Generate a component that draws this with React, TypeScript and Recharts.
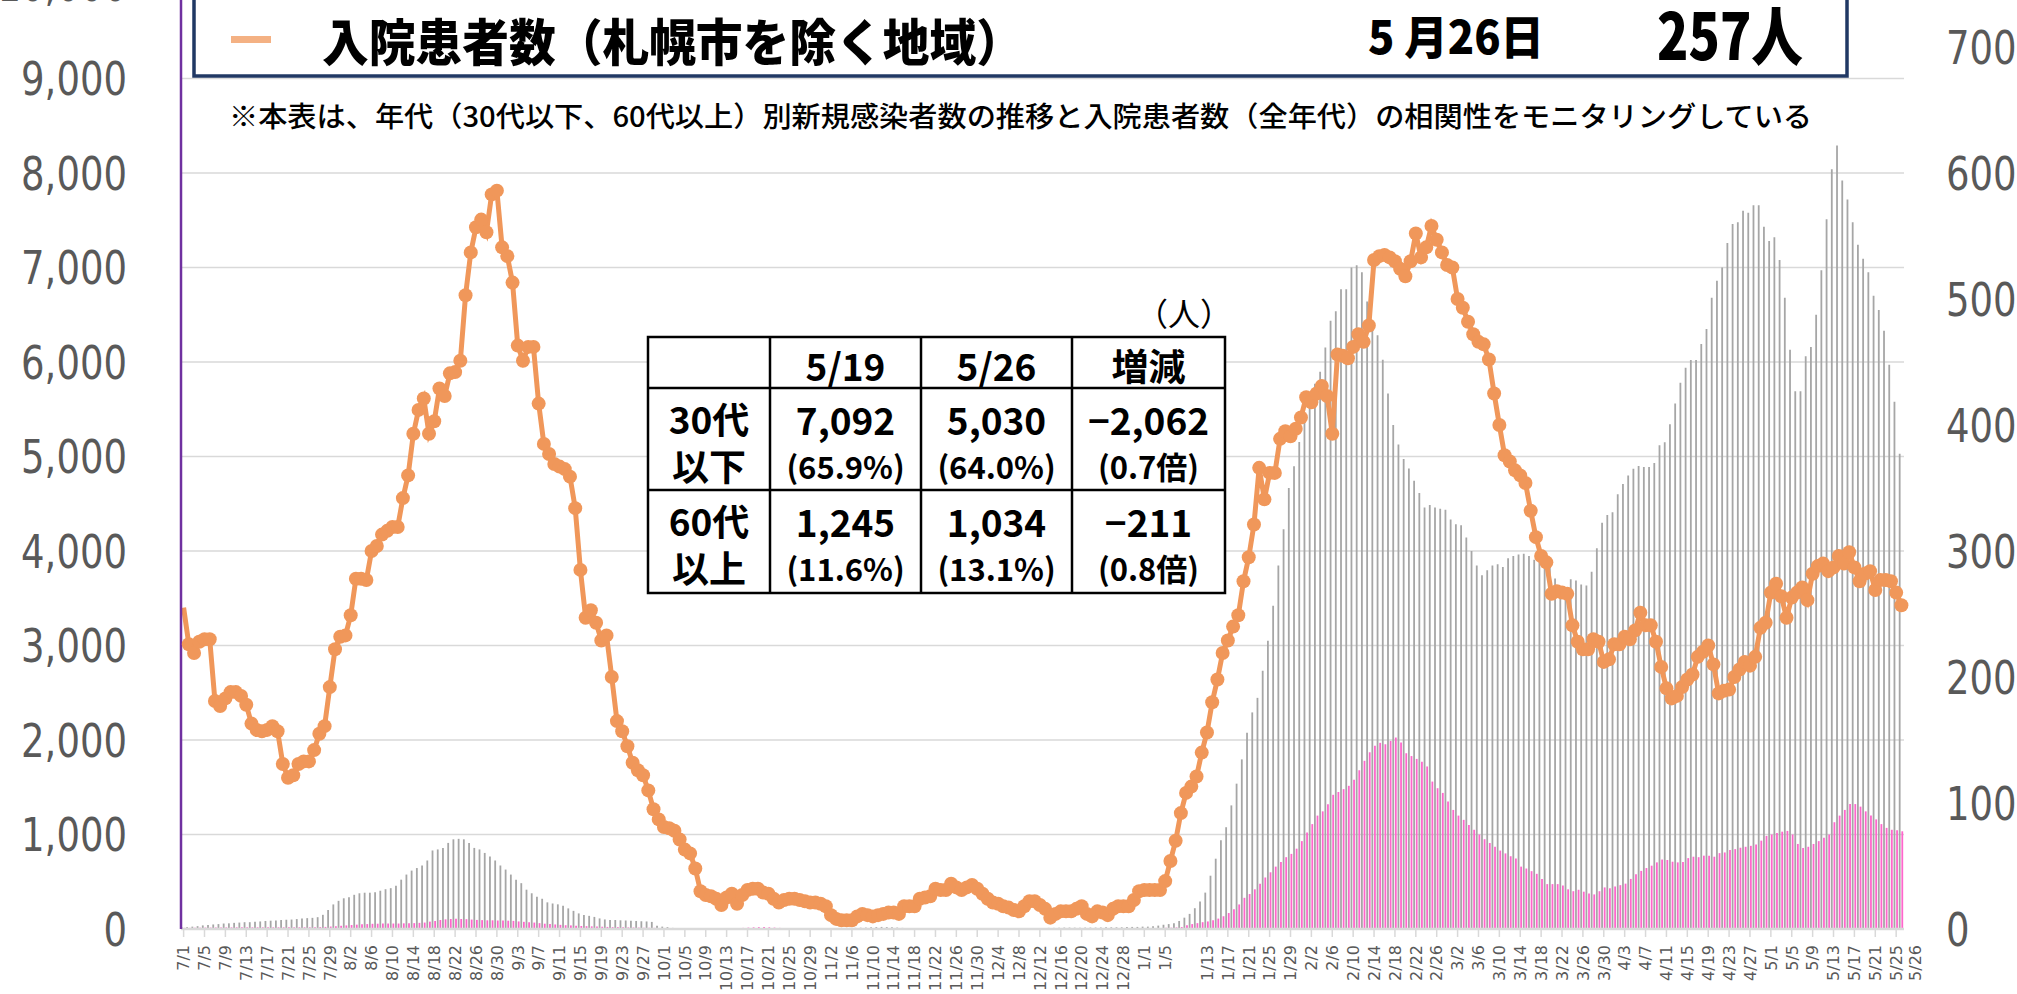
import React from 'react';
import { ComposedChart, Bar, Line, XAxis, YAxis, CartesianGrid } from 'recharts';

// days per month, 2021/7/1 - 2022/5/26
const monthDays: [number, number][] = [
  [7, 31], [8, 31], [9, 30], [10, 31], [11, 30], [12, 31],
  [1, 31], [2, 28], [3, 31], [4, 30], [5, 26],
];
const dates: string[] = monthDays.flatMap(([m, n]) =>
  Array.from({ length: n }, (_, k) => `${m}/${k + 1}`)
);

// 入院患者数 (right axis)
const hospitalized = [
  255, 226, 219, 228, 230, 230, 181, 177, 183, 188,
  188, 185, 178, 163, 158, 157, 158, 161, 157, 131,
  120, 122, 131, 133, 133, 142, 155, 161, 192, 222,
  232, 233, 249, 278, 278, 277, 300, 304, 313, 316,
  319, 319, 342, 360, 393, 412, 421, 393, 403, 429,
  423, 441, 442, 451, 503, 537, 557, 563, 553, 583,
  586, 541, 534, 513, 463, 451, 462, 462, 417, 385,
  377, 369, 367, 365, 359, 334, 285, 247, 253, 243,
  229, 233, 200, 165, 157, 145, 132, 126, 122, 110,
  95, 87, 81, 80, 78, 71, 63, 60, 48, 30,
  27, 26, 24, 19, 25, 28, 20, 27, 31, 32,
  32, 29, 28, 24, 21, 23, 24, 24, 23, 22,
  21, 21, 20, 18, 11, 8, 7, 7, 7, 10,
  12, 11, 10, 11, 12, 13, 13, 12, 18, 18,
  18, 24, 25, 26, 32, 31, 31, 36, 33, 31,
  33, 35, 32, 28, 24, 21, 20, 18, 17, 15,
  14, 18, 22, 22, 19, 16, 9, 12, 14, 14,
  14, 16, 18, 12, 10, 14, 13, 11, 16, 18,
  18, 18, 23, 30, 31, 31, 31, 31, 38, 54,
  70, 92, 108, 113, 121, 140, 156, 180, 198, 219,
  229, 240, 249, 276, 295, 321, 366, 341, 362, 362,
  389, 395, 391, 397, 406, 422, 418, 425, 431, 423,
  393, 456, 455, 453, 462, 472, 466, 479, 531, 534,
  535, 533, 530, 524, 518, 530, 552, 533, 541, 558,
  547, 537, 527, 525, 500, 493, 482, 472, 466, 464,
  452, 425, 400, 376, 371, 364, 360, 354, 332, 311,
  296, 291, 266, 268, 267, 266, 241, 228, 222, 222,
  230, 228, 212, 214, 226, 226, 232, 230, 237, 251,
  241, 241, 228, 208, 191, 183, 185, 192, 198, 202,
  216, 220, 225, 210, 187, 189, 190, 200, 206, 212,
  209, 216, 239, 243, 267, 274, 264, 247, 263, 267,
  271, 261, 282, 288, 290, 284, 287, 296, 290, 299,
  287, 276, 282, 284, 269, 277, 277, 276, 267, 257,
];

// 30代以下 新規感染者数 (left axis)
const under30s = [
  15, 20, 25, 30, 38, 42, 48, 52, 58, 60,
  65, 68, 72, 72, 78, 80, 85, 88, 90, 95,
  98, 100, 105, 110, 115, 118, 125, 150, 200, 260,
  298, 325, 336, 362, 378, 384, 384, 389, 405, 421,
  432, 458, 522, 576, 618, 645, 672, 725, 831, 842,
  858, 911, 949, 954, 949, 911, 858, 842, 805, 768,
  725, 672, 629, 576, 522, 485, 416, 378, 341, 320,
  282, 270, 261, 245, 218, 192, 165, 149, 139, 128,
  112, 101, 96, 95, 92, 90, 88, 85, 82, 80,
  75, 35, 25, 20, 12, 10, 8, 6, 5, 5,
  4, 4, 4, 5, 5, 6, 6, 8, 10, 10,
  10, 8, 6, 5, 4, 3, 3, 3, 3, 3,
  4, 4, 4, 5, 6, 8, 10, 10, 12, 12,
  14, 15, 18, 20, 22, 20, 18, 15, 12, 10,
  8, 6, 5, 4, 3, 3, 3, 3, 3, 3,
  3, 3, 3, 3, 3, 3, 3, 3, 3, 3,
  4, 4, 5, 6, 8, 10, 12, 12, 14, 15,
  15, 14, 14, 15, 15, 15, 16, 18, 18, 18,
  18, 20, 22, 22, 25, 25, 30, 36, 45, 52,
  60, 85, 120, 160, 220, 290, 385, 564, 744, 938,
  1077, 1308, 1538, 1795, 2077, 2292, 2446, 2733, 3051, 3420,
  3846, 4231, 4666, 4897, 5154, 5410, 5641, 5769, 5897, 6154,
  6436, 6538, 6769, 6769, 7000, 7025, 6949, 6641, 6385, 6282,
  6025, 5667, 5333, 5128, 4974, 4872, 4744, 4615, 4461, 4487,
  4461, 4446, 4436, 4333, 4282, 4272, 4143, 4000, 3846, 3743,
  3795, 3846, 3861, 3830, 3923, 3948, 3964, 3970, 3946, 3907,
  3946, 3929, 3907, 3710, 3590, 3618, 3700, 3689, 3645, 3634,
  3780, 4030, 4300, 4380, 4410, 4600, 4710, 4800, 4870, 4900,
  4890, 4890, 4930, 5120, 5150, 5340, 5560, 5780, 5940, 6020,
  6020, 6190, 6350, 6680, 6860, 7000, 7260, 7460, 7480, 7600,
  7580, 7660, 7660, 7430, 7280, 7320, 7080, 6680, 6130, 5690,
  5690, 6060, 6160, 6500, 6970, 7510, 8040, 8290, 7920, 7720,
  7480, 7240, 7092, 6950, 6700, 6550, 6330, 5970, 5580, 5030,
];

// 60代以上 新規感染者数 (left axis)
const over60s = [
  12, 12, 13, 14, 15, 15, 16, 16, 17, 17,
  18, 18, 18, 18, 18, 18, 18, 18, 18, 18,
  18, 18, 18, 18, 18, 18, 20, 22, 26, 30,
  34, 38, 42, 46, 50, 52, 55, 56, 58, 58,
  58, 58, 60, 62, 62, 65, 68, 78, 85, 95,
  102, 106, 108, 106, 104, 100, 96, 94, 92, 92,
  90, 90, 88, 86, 80, 76, 72, 68, 62, 56,
  52, 48, 44, 40, 38, 35, 32, 30, 28, 26,
  24, 22, 20, 20, 18, 17, 16, 15, 14, 13,
  12, 10, 8, 6, 5, 4, 4, 4, 4, 5,
  5, 5, 6, 6, 6, 8, 10, 12, 15, 18,
  20, 20, 18, 15, 12, 8, 6, 5, 4, 3,
  3, 3, 3, 3, 3, 3, 3, 3, 3, 3,
  3, 4, 4, 5, 5, 5, 4, 4, 3, 3,
  3, 3, 3, 3, 3, 3, 3, 3, 3, 3,
  3, 3, 3, 3, 3, 3, 3, 3, 3, 3,
  3, 3, 3, 3, 4, 4, 4, 4, 5, 5,
  5, 5, 5, 5, 5, 6, 6, 6, 6, 6,
  6, 6, 7, 7, 8, 8, 9, 10, 12, 14,
  17, 21, 40, 52, 62, 72, 80, 92, 110, 135,
  169, 210, 260, 330, 370, 420, 480, 545, 600, 660,
  710, 760, 795, 850, 930, 1020, 1110, 1200, 1245, 1320,
  1420, 1450, 1480, 1515, 1580, 1680, 1780, 1870, 1940, 1970,
  1955, 1990, 2026, 1974, 1860, 1830, 1800, 1770, 1720, 1560,
  1490, 1440, 1350, 1260, 1200, 1155, 1100, 1050, 1000, 950,
  910, 870, 830, 800, 770, 745, 660, 640, 612, 584,
  530, 475, 475, 475, 460, 420, 400, 415, 395, 375,
  366, 400, 440, 431, 450, 464, 480, 530, 580, 615,
  645, 670, 705, 735, 730, 712, 705, 710, 750, 765,
  760, 776, 776, 765, 803, 810, 835, 845, 860, 870,
  880, 895, 935, 985, 1000, 1015, 1030, 1038, 1000, 900,
  858, 870, 900, 930, 965, 1000, 1130, 1200, 1260, 1322,
  1322, 1295, 1245, 1200, 1160, 1110, 1070, 1050, 1045, 1034,
];

const leftTicks = [0, 1000, 2000, 3000, 4000, 5000, 6000, 7000, 8000, 9000, 10000];
const rightTicks = [0, 100, 200, 300, 400, 500, 600, 700];
const hiddenLabels = ['1/9'];

const tableHead = ['', '5/19', '5/26', '増減'];
const tableRows = [
  { label: ['30代', '以下'], cells: [['7,092', '(65.9%)'], ['5,030', '(64.0%)'], ['−2,062', '(0.7倍)']] },
  { label: ['60代', '以上'], cells: [['1,245', '(11.6%)'], ['1,034', '(13.1%)'], ['−211', '(0.8倍)']] },
];

const data = dates.map((d, i) => ({
  d,
  young: under30s[i],
  old: over60s[i],
  hosp: hospitalized[i],
}));

const dateIndex: Record<string, number> = {};
dates.forEach((d, i) => { dateIndex[d] = i; });

const AXIS_FONT = 'DejaVu Sans';
const JP_FONT = '"Noto Sans CJK JP", "Noto Sans CJK SC", sans-serif';
const ORANGE = '#F0975A';

function LeftTick(props: any) {
  const { x, y, payload } = props;
  return (
    <g transform={`translate(${x - 54},${y}) scale(1,1.25)`}>
      <text x={0} y={0} dy="0.36em" textAnchor="end" fill="#595959" fontSize={37} fontFamily={AXIS_FONT}>
        {Number(payload.value).toLocaleString('en-US')}
      </text>
    </g>
  );
}

function RightTick(props: any) {
  const { x, y, payload } = props;
  return (
    <g transform={`translate(${x + 42},${y}) scale(1,1.25)`}>
      <text x={0} y={0} dy="0.36em" textAnchor="start" fill="#595959" fontSize={37} fontFamily={AXIS_FONT}>
        {payload.value}
      </text>
    </g>
  );
}

function DateTick(props: any) {
  const { x, y, payload } = props;
  const i = dateIndex[payload.value];
  const last = i === dates.length - 1;
  if (i % 4 !== 0 && !last) return <g />;
  const showLabel = !hiddenLabels.includes(payload.value);
  const dx = last ? 14 : 0;
  return (
    <g>
      {i % 4 === 0 && <line x1={x} x2={x} y1={y} y2={y + 8} stroke="#D9D9D9" strokeWidth={1.5} />}
      {showLabel && (
        <text
          transform={`translate(${x + dx},${y + 16}) rotate(-90)`}
          textAnchor="end"
          dy="0.36em"
          fontSize={16}
          fill="#595959"
          fontFamily={AXIS_FONT}
        >
          {payload.value}
        </text>
      )}
    </g>
  );
}

// the first point continues from off-chart data, so it carries no marker
function HospDot(props: any) {
  const { cx, cy, index } = props;
  if (index === 0 || cx == null || cy == null) return <g key={`d${index}`} />;
  return <circle key={`d${index}`} cx={cx} cy={cy} r={7} fill={ORANGE} />;
}

function Overlay() {
  const cols = [648, 770, 921, 1072, 1225];
  const rows = [337, 388, 490, 593];
  const mid = (a: number, b: number) => (a + b) / 2;
  return (
    <svg width={2017} height={994} style={{ position: 'absolute', left: 0, top: 0 }}>
      {/* title box */}
      <rect x={194} y={-10} width={1653} height={86} fill="#fff" stroke="#203864" strokeWidth={3.5} />
      <rect x={231} y={36} width={40} height={7} fill="#F4B183" />
      <text x={322} y={61} fontSize={50} fontWeight={900} fontFamily={JP_FONT} fill="#000" textLength={701} lengthAdjust="spacingAndGlyphs">
        入院患者数（札幌市を除く地域）
      </text>
      <text x={1368} y={54} fontSize={46} fontWeight={900} fontFamily={JP_FONT} fill="#000" textLength={176} lengthAdjust="spacingAndGlyphs">
        5 月26日
      </text>
      <text x={1657} y={60} fontSize={64} fontWeight={900} fontFamily={JP_FONT} fill="#000" textLength={146} lengthAdjust="spacingAndGlyphs">
        257人
      </text>
      <text x={229} y={127} fontSize={28} fontWeight={500} fontFamily={JP_FONT} fill="#000" textLength={1583} lengthAdjust="spacingAndGlyphs">
        ※本表は、年代（30代以下、60代以上）別新規感染者数の推移と入院患者数（全年代）の相関性をモニタリングしている
      </text>

      {/* table */}
      <text x={1136} y={326} fontSize={32} fontFamily={JP_FONT} fill="#000" textLength={96} lengthAdjust="spacingAndGlyphs">（人）</text>
      <rect x={cols[0]} y={rows[0]} width={cols[4] - cols[0]} height={rows[3] - rows[0]} fill="#fff" stroke="#000" strokeWidth={2.5} />
      {cols.slice(1, 4).map((c) => (
        <line key={c} x1={c} x2={c} y1={rows[0]} y2={rows[3]} stroke="#000" strokeWidth={2.5} />
      ))}
      {rows.slice(1, 3).map((r) => (
        <line key={r} x1={cols[0]} x2={cols[4]} y1={r} y2={r} stroke="#000" strokeWidth={2.5} />
      ))}
      {tableHead.map((h, k) => (
        <text key={k} x={mid(cols[k], cols[k + 1])} y={381} textAnchor="middle" fontSize={37} fontWeight={700} fontFamily={JP_FONT} fill="#000">
          {h}
        </text>
      ))}
      {tableRows.map((row, r) => {
        const top = rows[r + 1];
        return (
          <g key={r}>
            <text x={mid(cols[0], cols[1])} y={top + 46} textAnchor="middle" fontSize={37} fontWeight={700} fontFamily={JP_FONT}>{row.label[0]}</text>
            <text x={mid(cols[0], cols[1])} y={top + 93} textAnchor="middle" fontSize={37} fontWeight={700} fontFamily={JP_FONT}>{row.label[1]}</text>
            {row.cells.map((c, k) => (
              <g key={k}>
                <text x={mid(cols[k + 1], cols[k + 2])} y={top + 47} textAnchor="middle" fontSize={37} fontWeight={700} fontFamily={JP_FONT}>{c[0]}</text>
                <text x={mid(cols[k + 1], cols[k + 2])} y={top + 91} textAnchor="middle" fontSize={31} fontWeight={700} fontFamily={JP_FONT}>{c[1]}</text>
              </g>
            ))}
          </g>
        );
      })}
    </svg>
  );
}

export default function App() {
  return (
    <div style={{ position: 'fixed', left: 0, top: 0, width: 2017, height: 994, overflow: 'hidden', background: '#fff' }}>
      <div style={{ position: 'absolute', left: 0, top: -60 }}>
        <ComposedChart
          width={2017}
          height={1060}
          data={data}
          margin={{ top: 44, right: 0, bottom: 0, left: 0 }}
          barGap={0.8}
        >
          <CartesianGrid yAxisId="left" vertical={false} stroke="#D9D9D9" strokeWidth={1.3} />
          <XAxis
            dataKey="d"
            interval={0}
            height={71}
            tickSize={0}
            tickMargin={0}
            tickLine={false}
            axisLine={{ stroke: '#D9D9D9', strokeWidth: 2.5 }}
            tick={DateTick}
          />
          <YAxis
            yAxisId="left"
            width={181}
            domain={[0, 10000]}
            ticks={leftTicks}
            interval={0}
            tickSize={0}
            tickMargin={0}
            tickLine={false}
            axisLine={{ stroke: '#7030A0', strokeWidth: 2.5 }}
            tick={LeftTick}
          />
          <YAxis
            yAxisId="right"
            orientation="right"
            width={113}
            domain={[0, 750]}
            ticks={rightTicks}
            interval={0}
            tickSize={0}
            tickMargin={0}
            tickLine={false}
            axisLine={false}
            tick={RightTick}
          />
          <Bar yAxisId="left" dataKey="young" fill="#A6A6A6" barSize={1.8} isAnimationActive={false} />
          <Bar yAxisId="left" dataKey="old" fill="#FF66CC" barSize={1.8} isAnimationActive={false} />
          <Line
            yAxisId="right"
            dataKey="hosp"
            type="linear"
            stroke={ORANGE}
            strokeWidth={5}
            dot={HospDot}
            activeDot={false}
            isAnimationActive={false}
          />
        </ComposedChart>
      </div>
      <Overlay />
    </div>
  );
}
